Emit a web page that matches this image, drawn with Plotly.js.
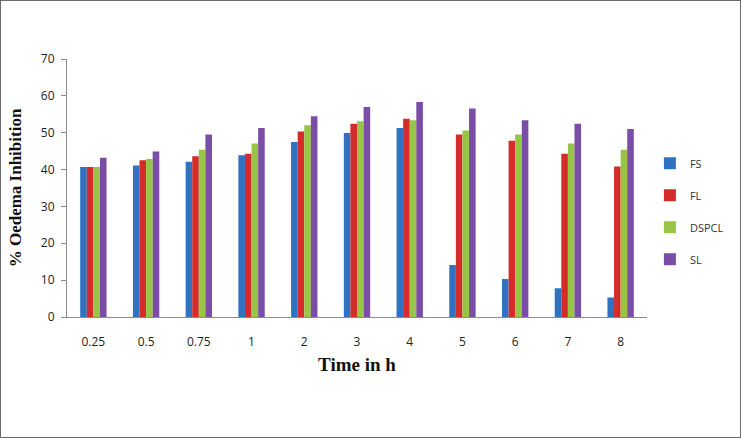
<!DOCTYPE html>
<html>
<head>
<meta charset="utf-8">
<script src="https://cdn.plot.ly/plotly-3.0.1.min.js"></script>
<style>
  body { margin: 0; background: #fff; }
  #chart { width: 741px; height: 438px; box-sizing: border-box; border: 1px solid #6b6b6b; }
</style>
</head>
<body>
<div id="chart"></div>
<script>
const times = ['0.25', '0.5', '0.75', '1', '2', '3', '4', '5', '6', '7', '8'];
const fs    = [40.7, 41.1, 42.1, 43.9, 47.5, 49.9, 51.3, 14.1, 10.3, 7.8, 5.3];
const fl    = [40.7, 42.5, 43.6, 44.3, 50.3, 52.4, 53.8, 49.5, 47.8, 44.3, 40.8];
const dspcl = [40.7, 42.9, 45.4, 47.1, 52.0, 53.1, 53.4, 50.6, 49.5, 47.1, 45.4];
const sl    = [43.2, 44.9, 49.5, 51.3, 54.5, 57.0, 58.3, 56.6, 53.4, 52.4, 51.0];
const yTicks = [0, 10, 20, 30, 40, 50, 60, 70];

const series = [
  { name: 'FS', y: fs, color: '#2f72c2' },
  { name: 'FL', y: fl, color: '#d42b2b' },
  { name: 'DSPCL', y: dspcl, color: '#98c545' },
  { name: 'SL', y: sl, color: '#7a4da6' }
];

const data = series.map((s, i) => ({
  type: 'bar',
  name: s.name,
  x: times,
  y: s.y,
  legendgroup: 'g' + i,
  marker: { color: s.color, line: { width: 0 } }
}));

const layout = {
  width: 739,
  height: 436,
  margin: { l: 66, r: 93, t: 58, b: 120, autoexpand: false },
  paper_bgcolor: '#ffffff',
  plot_bgcolor: '#ffffff',
  barmode: 'group',
  bargap: 0.5,
  bargroupgap: 0,
  font: { family: 'Open Sans, DejaVu Sans, sans-serif', size: 12, color: '#222' },
  xaxis: {
    type: 'category',
    tickvals: times,
    showline: true,
    linecolor: '#8c8c8c',
    linewidth: 1,
    ticks: '',
    showgrid: false,
    zeroline: false,
    ticklabelstandoff: 14,
    tickfont: { size: 12, color: '#222' },
    title: {
      text: '<b>Time in h</b>',
      font: { family: 'Liberation Serif, Times New Roman, serif', size: 19, color: '#111' },
      standoff: 8
    }
  },
  yaxis: {
    range: [0, 70],
    tickvals: yTicks,
    showline: true,
    linecolor: '#8c8c8c',
    linewidth: 1,
    ticks: 'outside',
    ticklen: 5,
    tickcolor: '#8c8c8c',
    ticklabelstandoff: 4,
    showgrid: false,
    zeroline: false,
    tickfont: { size: 12, color: '#222' },
    title: {
      text: '<b>% Oedema Inhibition</b>',
      font: { family: 'Liberation Serif, Times New Roman, serif', size: 17, color: '#111' },
      standoff: 14
    }
  },
  legend: {
    x: 1.005,
    y: 0.41,
    yanchor: 'middle',
    xanchor: 'left',
    tracegroupgap: 13,
    font: { size: 11, color: '#333' },
    itemwidth: 30
  },
  showlegend: true
};

Plotly.newPlot('chart', data, layout, { staticPlot: true });
</script>
</body>
</html>
